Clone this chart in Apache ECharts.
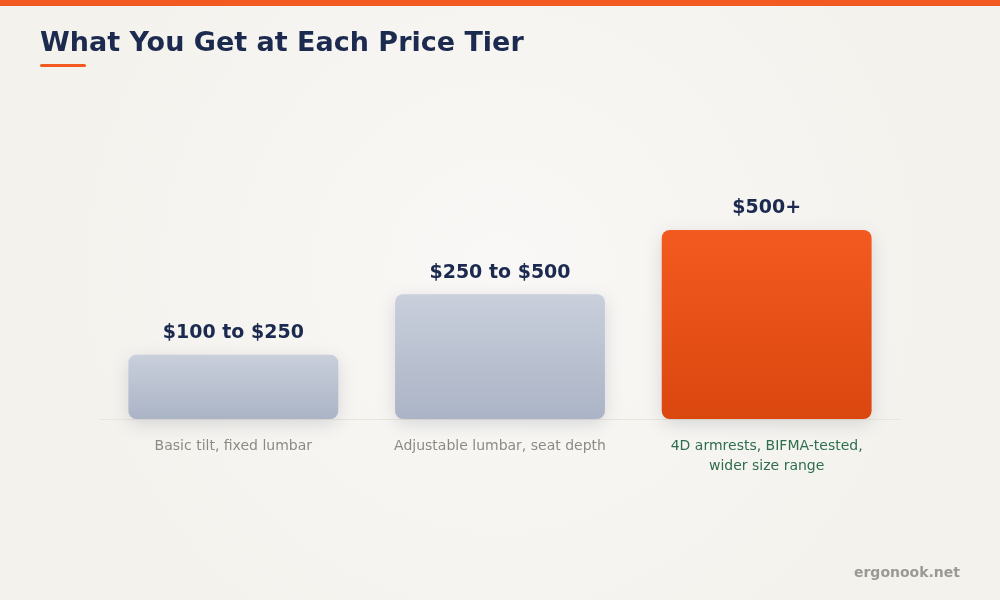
<!DOCTYPE html>
<html>
<head>
<meta charset="utf-8">
<script src="https://cdn.jsdelivr.net/npm/echarts@6/dist/echarts.min.js"></script>
<style>
html,body{margin:0;padding:0;background:#f7f6f3;}
#c{width:1000px;height:600px;}
</style>
</head>
<body>
<div id="c"></div>
<script>
const tiers = ['$100 to $250', '$250 to $500', '$500+'];
const features = ['Basic tilt, fixed lumbar', 'Adjustable lumbar, seat depth', '4D armrests, BIFMA-tested,\nwider size range'];
const tierLevel = [34, 66, 100];
const highlight = [false, false, true];

const FONT = 'DejaVu Sans';
const chart = echarts.init(document.getElementById('c'));

const grayFill = new echarts.graphic.LinearGradient(0, 0, 0, 1, [
  {offset: 0, color: '#c9cfdb'}, {offset: 1, color: '#abb4c6'}
]);
const orangeFill = new echarts.graphic.LinearGradient(0, 0, 0, 1, [
  {offset: 0, color: '#f35a1f'}, {offset: 1, color: '#da470f'}
]);

chart.setOption({
  backgroundColor: {
    type: 'radial', x: 0.5, y: 0.45, r: 0.75,
    colorStops: [{offset: 0, color: '#f9f8f6'}, {offset: 1, color: '#f4f2ed'}]
  },
  animation: false,
  graphic: [
    {type: 'rect', left: 0, top: 0, shape: {width: 1000, height: 6}, style: {fill: '#f25a22'}},
    {type: 'text', left: 40, top: 30, style: {text: 'What You Get at Each Price Tier', font: 'bold 27px "DejaVu Sans"', fill: '#1b2a4e'}},
    {type: 'rect', left: 40, top: 64, shape: {width: 46, height: 3, r: 1.5}, style: {fill: '#f25a22'}},
    {type: 'text', right: 40, top: 566, style: {text: 'ergonook.net', font: 'bold 14px "DejaVu Sans"', fill: '#9a9994'}}
  ],
  grid: {left: 100, right: 100, top: 230, bottom: 181},
  xAxis: {
    type: 'category',
    data: features.map((f, i) => highlight[i] ? {value: f, textStyle: {color: '#2e6e4c'}} : f),
    axisLine: {show: true, lineStyle: {color: '#e9e6dc', width: 1}},
    axisTick: {show: false},
    axisLabel: {fontFamily: FONT, fontSize: 14, color: '#8c8b83', margin: 17, lineHeight: 20, interval: 0}
  },
  yAxis: {type: 'value', min: 0, max: 100, show: false, splitLine: {show: false}},
  series: [{
    type: 'bar',
    barWidth: '78.7%',
    data: tierLevel.map((v, i) => ({
      value: v,
      itemStyle: {color: highlight[i] ? orangeFill : grayFill},
      label: {formatter: tiers[i]}
    })),
    itemStyle: {borderRadius: 8, shadowBlur: 18, shadowColor: 'rgba(40,50,80,0.16)', shadowOffsetY: 5},
    label: {show: true, position: 'top', distance: 12, fontFamily: FONT, fontWeight: 'bold', fontSize: 19, color: '#1b2a4e'}
  }]
});
</script>
</body>
</html>
